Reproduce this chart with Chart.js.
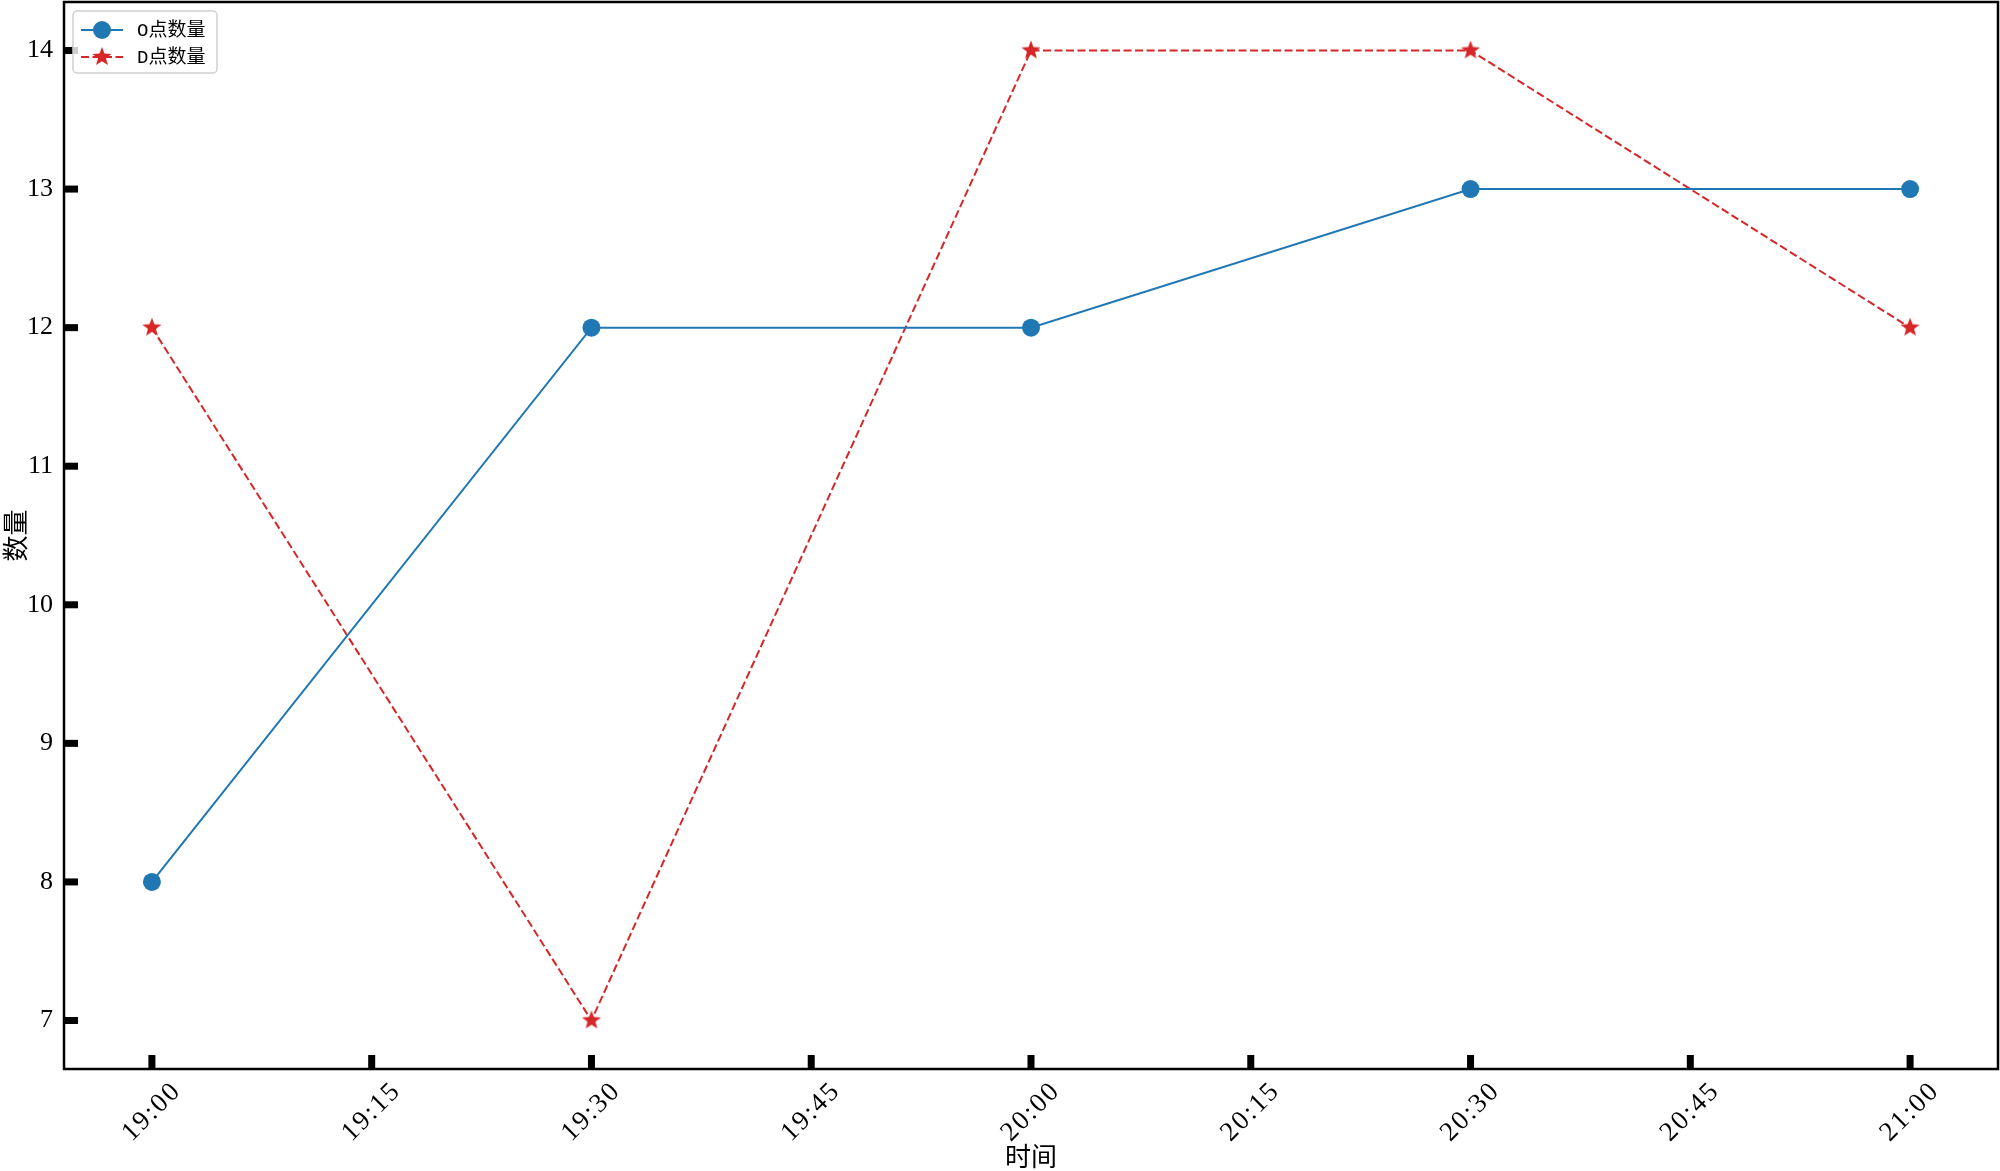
<!DOCTYPE html>
<html>
<head>
<meta charset="utf-8">
<script src="https://cdn.jsdelivr.net/npm/chart.js@4.4.1/dist/chart.umd.min.js"></script>
<style>
  html, body { margin: 0; padding: 0; background: #fff; }
</style>
</head>
<body>
<canvas id="myChart" width="2000" height="1171"></canvas>
<script>
// tick labels every 15 minutes, samples every 30 minutes
const tickLabels = ['19:00', '19:15', '19:30', '19:45', '20:00', '20:15', '20:30', '20:45', '21:00'];
const sampleTimes = ['19:00', '19:30', '20:00', '20:30', '21:00'];
const oCounts = [8, 12, 12, 13, 13];
const dCounts = [12, 7, 14, 14, 12];
const seriesNames = ['O点数量', 'D点数量'];

const BLUE = '#1f77b4';
const RED = '#d62728';
const SERIF = "'Liberation Serif', 'Times New Roman', 'Noto Sans CJK SC', serif";
const LEGEND_FONT = "'Liberation Mono', 'Noto Sans CJK SC', monospace";

// filled five-point star marker
function makeStar(color, outer) {
  const c = document.createElement('canvas');
  const size = Math.ceil(outer * 2 + 4);
  c.width = size; c.height = size;
  const g = c.getContext('2d');
  const inner = outer * 0.42;
  g.beginPath();
  for (let i = 0; i < 10; i++) {
    const r = i % 2 === 0 ? outer : inner;
    const a = -Math.PI / 2 + i * Math.PI / 5;
    const px = size / 2 + r * Math.cos(a);
    const py = size / 2 + r * Math.sin(a);
    if (i === 0) g.moveTo(px, py); else g.lineTo(px, py);
  }
  g.closePath();
  g.fillStyle = color;
  g.fill();
  return c;
}
const starImg = makeStar(RED, 10);

const toPoints = (vals) => vals.map((v, i) => ({ x: tickLabels.indexOf(sampleTimes[i]), y: v }));

const decorPlugin = {
  id: 'decor',
  afterDraw(chart) {
    const ctx = chart.ctx;
    const a = chart.chartArea;
    const xs = chart.scales.x;
    const ys = chart.scales.y;
    ctx.save();

    // inward ticks
    ctx.fillStyle = '#000';
    xs.ticks.forEach(t => {
      const px = xs.getPixelForValue(t.value);
      ctx.fillRect(px - 3.5, a.bottom - 14, 7, 14);
    });
    ys.ticks.forEach(t => {
      const py = ys.getPixelForValue(t.value);
      ctx.fillRect(a.left, py - 3.5, 14, 7);
    });

    // frame
    ctx.strokeStyle = '#000';
    ctx.lineWidth = 2.5;
    ctx.strokeRect(a.left, a.top, a.right - a.left, a.bottom - a.top);

    // rotated x tick labels, centred under tick
    ctx.font = '27px ' + SERIF;
    ctx.letterSpacing = '2px';
    ctx.fillStyle = '#000';
    ctx.textAlign = 'center';
    ctx.textBaseline = 'middle';
    xs.ticks.forEach(t => {
      const label = tickLabels[t.value];
      if (label === undefined) return;
      const px = xs.getPixelForValue(t.value);
      ctx.save();
      ctx.translate(px, a.bottom + 43);
      ctx.rotate(-Math.PI / 4);
      ctx.fillText(label, 0, 0);
      ctx.restore();
    });
    ctx.letterSpacing = '0px';

    // legend box
    const lx = 73, ly = 11, lw = 144, lh = 62;
    ctx.beginPath();
    ctx.roundRect(lx, ly, lw, lh, 4);
    ctx.fillStyle = 'rgba(255,255,255,0.8)';
    ctx.fill();
    ctx.strokeStyle = '#d0d0d0';
    ctx.lineWidth = 1.5;
    ctx.stroke();

    const rows = [30, 57];
    // row 1: solid blue + circle
    ctx.strokeStyle = BLUE;
    ctx.lineWidth = 2;
    ctx.setLineDash([]);
    ctx.beginPath();
    ctx.moveTo(81, rows[0]); ctx.lineTo(123, rows[0]);
    ctx.stroke();
    ctx.fillStyle = BLUE;
    ctx.beginPath();
    ctx.arc(102, rows[0], 9, 0, Math.PI * 2);
    ctx.fill();
    // row 2: dashed red + star
    ctx.strokeStyle = RED;
    ctx.setLineDash([8, 3.5]);
    ctx.beginPath();
    ctx.moveTo(81, rows[1]); ctx.lineTo(123, rows[1]);
    ctx.stroke();
    ctx.setLineDash([]);
    ctx.drawImage(starImg, 102 - starImg.width / 2, rows[1] - starImg.height / 2);

    ctx.fillStyle = '#000';
    ctx.font = '19px ' + LEGEND_FONT;
    ctx.textAlign = 'left';
    ctx.textBaseline = 'middle';
    ctx.fillText(seriesNames[0], 137, rows[0] + 1);
    ctx.fillText(seriesNames[1], 137, rows[1] + 1);

    ctx.restore();
  }
};

new Chart(document.getElementById('myChart'), {
  type: 'line',
  data: {
    datasets: [{
      label: seriesNames[0],
      data: toPoints(oCounts),
      borderColor: BLUE,
      backgroundColor: BLUE,
      borderWidth: 2,
      pointRadius: 9,
      pointBorderWidth: 0,
      pointBackgroundColor: BLUE,
      fill: false,
      tension: 0
    }, {
      label: seriesNames[1],
      data: toPoints(dCounts),
      borderColor: RED,
      backgroundColor: RED,
      borderWidth: 2,
      borderDash: [8, 3.5],
      pointStyle: starImg,
      fill: false,
      tension: 0
    }]
  },
  options: {
    responsive: false,
    animation: false,
    devicePixelRatio: 1,
    layout: { autoPadding: false, padding: { left: 0, right: 2, top: 2, bottom: 0 } },
    plugins: {
      legend: { display: false },
      tooltip: { enabled: false }
    },
    scales: {
      x: {
        type: 'linear',
        min: -0.4,
        max: 8.4,
        grid: { display: false, drawTicks: false },
        border: { display: false },
        ticks: { stepSize: 1, includeBounds: false, display: false },
        title: {
          display: true,
          text: '时间',
          color: '#000',
          font: { family: SERIF, size: 26 },
          padding: { top: 0, bottom: -4 }
        },
        afterFit(scale) {
          scale.height = 102;
          scale.paddingLeft = 0;
          scale.paddingRight = 0;
        }
      },
      y: {
        min: 6.65,
        max: 14.35,
        grid: { display: false, drawTicks: false },
        border: { display: false },
        ticks: {
          stepSize: 1,
          includeBounds: false,
          padding: 11,
          color: '#000',
          font: { family: SERIF, size: 26 }
        },
        title: {
          display: true,
          text: '数量',
          color: '#000',
          font: { family: SERIF, size: 26 },
          padding: { top: 3, bottom: 0 }
        },
        afterFit(scale) {
          scale.width = 64;
          scale.paddingTop = 0;
          scale.paddingBottom = 0;
        }
      }
    }
  },
  plugins: [decorPlugin]
});
</script>
</body>
</html>
